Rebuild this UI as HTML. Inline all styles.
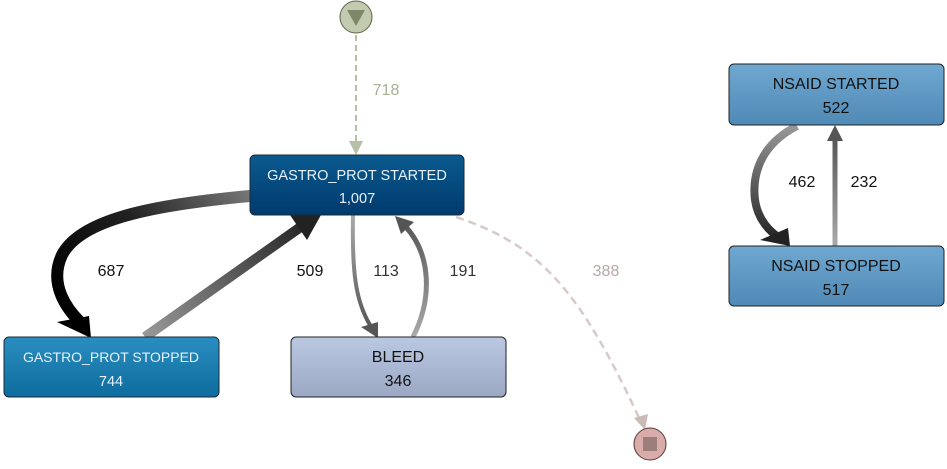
<!DOCTYPE html>
<html><head><meta charset="utf-8"><style>
html,body{margin:0;padding:0;background:#fff;}
svg{display:block;font-family:"Liberation Sans",Arial,sans-serif;}
</style></head><body>
<svg width="947" height="469" viewBox="0 0 947 469" xmlns="http://www.w3.org/2000/svg">
<defs>
<linearGradient id="gs" x1="0" y1="0" x2="0" y2="1"><stop offset="0" stop-color="#0a5a8e"/><stop offset="1" stop-color="#003a6e"/></linearGradient>
<linearGradient id="gp" x1="0" y1="0" x2="0" y2="1"><stop offset="0" stop-color="#2a8dc0"/><stop offset="1" stop-color="#0e6c9e"/></linearGradient>
<linearGradient id="gb" x1="0" y1="0" x2="0" y2="1"><stop offset="0" stop-color="#bac8e2"/><stop offset="1" stop-color="#9aa8c4"/></linearGradient>
<linearGradient id="gn" x1="0" y1="0" x2="0" y2="1"><stop offset="0" stop-color="#6fa8d0"/><stop offset="1" stop-color="#4f89b5"/></linearGradient>
<linearGradient id="e687" gradientUnits="userSpaceOnUse" x1="250" y1="192" x2="70" y2="320"><stop offset="0" stop-color="#777"/><stop offset="0.5" stop-color="#222"/><stop offset="1" stop-color="#000"/></linearGradient>
<linearGradient id="e509" gradientUnits="userSpaceOnUse" x1="145" y1="337" x2="310" y2="220"><stop offset="0" stop-color="#999"/><stop offset="1" stop-color="#222"/></linearGradient>
<linearGradient id="e113" gradientUnits="userSpaceOnUse" x1="0" y1="215" x2="0" y2="330"><stop offset="0" stop-color="#aaa"/><stop offset="1" stop-color="#555"/></linearGradient>
<linearGradient id="e191" gradientUnits="userSpaceOnUse" x1="0" y1="337" x2="0" y2="220"><stop offset="0" stop-color="#aaa"/><stop offset="1" stop-color="#555"/></linearGradient>
<linearGradient id="e462" gradientUnits="userSpaceOnUse" x1="0" y1="125" x2="0" y2="240"><stop offset="0" stop-color="#999"/><stop offset="1" stop-color="#222"/></linearGradient>
<linearGradient id="e232" gradientUnits="userSpaceOnUse" x1="0" y1="246" x2="0" y2="135"><stop offset="0" stop-color="#aaa"/><stop offset="1" stop-color="#555"/></linearGradient>
</defs>

<line x1="356" y1="35" x2="356" y2="142" stroke="#b5c0a5" stroke-width="2" stroke-dasharray="6,4"/>
<polygon points="349,141 363,141 356,155" fill="#b5c0a5"/>
<text x="386" y="95" font-size="16" fill="#a8b096" text-anchor="middle">718</text>

<path d="M250,196 C150,205 80,220 62,255 C48,285 68,310 80,322" fill="none" stroke="url(#e687)" stroke-width="12"/>
<polygon points="57,322 89,316 91,338" fill="#000"/>
<text x="111" y="276" font-size="16" fill="#111" text-anchor="middle">687</text>

<line x1="145" y1="337" x2="302" y2="226" stroke="url(#e509)" stroke-width="10"/>
<polygon points="290,215 321,215 307,240" fill="#222"/>
<text x="310" y="276" font-size="16" fill="#111" text-anchor="middle">509</text>

<path d="M353,215 C352,270 355,300 370,325" fill="none" stroke="url(#e113)" stroke-width="4"/>
<polygon points="361,327 378,322 378,338" fill="#555"/>
<text x="386" y="276" font-size="16" fill="#333" text-anchor="middle">113</text>

<path d="M413,337 C432,300 432,255 405,226" fill="none" stroke="url(#e191)" stroke-width="5"/>
<polygon points="395,216 414,222 401,234" fill="#555"/>
<text x="463" y="276" font-size="16" fill="#333" text-anchor="middle">191</text>

<path d="M456,217 C540,245 580,290 640,420" fill="none" stroke="#d8cac8" stroke-width="2.5" stroke-dasharray="8,5"/>
<polygon points="634,418 648,414 645,430" fill="#cbbab7"/>
<text x="606" y="276" font-size="16" fill="#b8a8a5" text-anchor="middle">388</text>

<path d="M797,126 C760,145 752,175 755,200 C758,220 770,232 780,238" fill="none" stroke="url(#e462)" stroke-width="8"/>
<polygon points="760,240 788,228 790,246" fill="#222"/>
<text x="802" y="187" font-size="16" fill="#111" text-anchor="middle">462</text>

<line x1="835" y1="246" x2="835" y2="140" stroke="url(#e232)" stroke-width="5"/>
<polygon points="827,141 843,141 835,125" fill="#555"/>
<text x="864" y="187" font-size="16" fill="#111" text-anchor="middle">232</text>

<rect x="250" y="155" width="214" height="60" rx="5" fill="url(#gs)" stroke="#1a2a3a" stroke-width="1"/>
<text x="357" y="180" font-size="14.5" fill="#e8f0f8" text-anchor="middle">GASTRO_PROT STARTED</text>
<text x="357" y="203" font-size="14.5" fill="#e8f0f8" text-anchor="middle">1,007</text>

<rect x="4" y="337" width="215" height="60" rx="5" fill="url(#gp)" stroke="#1a2a3a" stroke-width="1"/>
<text x="111" y="362" font-size="14" fill="#e8f0f8" text-anchor="middle">GASTRO_PROT STOPPED</text>
<text x="111" y="386" font-size="14.5" fill="#e8f0f8" text-anchor="middle">744</text>

<rect x="291" y="337" width="215" height="60" rx="5" fill="url(#gb)" stroke="#222" stroke-width="1"/>
<text x="398" y="362" font-size="16" fill="#111" text-anchor="middle">BLEED</text>
<text x="398" y="386" font-size="16" fill="#111" text-anchor="middle">346</text>

<rect x="729" y="64" width="215" height="61" rx="5" fill="url(#gn)" stroke="#222" stroke-width="1"/>
<text x="836" y="89" font-size="16" fill="#111" text-anchor="middle">NSAID STARTED</text>
<text x="836" y="113" font-size="16" fill="#111" text-anchor="middle">522</text>

<rect x="729" y="246" width="215" height="60" rx="5" fill="url(#gn)" stroke="#222" stroke-width="1"/>
<text x="836" y="271" font-size="16" fill="#111" text-anchor="middle">NSAID STOPPED</text>
<text x="836" y="295" font-size="16" fill="#111" text-anchor="middle">517</text>

<circle cx="356" cy="17" r="16" fill="#c2cbb0" stroke="#5a6248" stroke-width="1"/>
<polygon points="347,10 365,10 356,26" fill="#7d8866"/>
<circle cx="650" cy="444" r="16" fill="#d8aca8" stroke="#5a3a38" stroke-width="1"/>
<rect x="643" y="437" width="14" height="14" fill="#9e7e7c"/>
</svg>
</body></html>
